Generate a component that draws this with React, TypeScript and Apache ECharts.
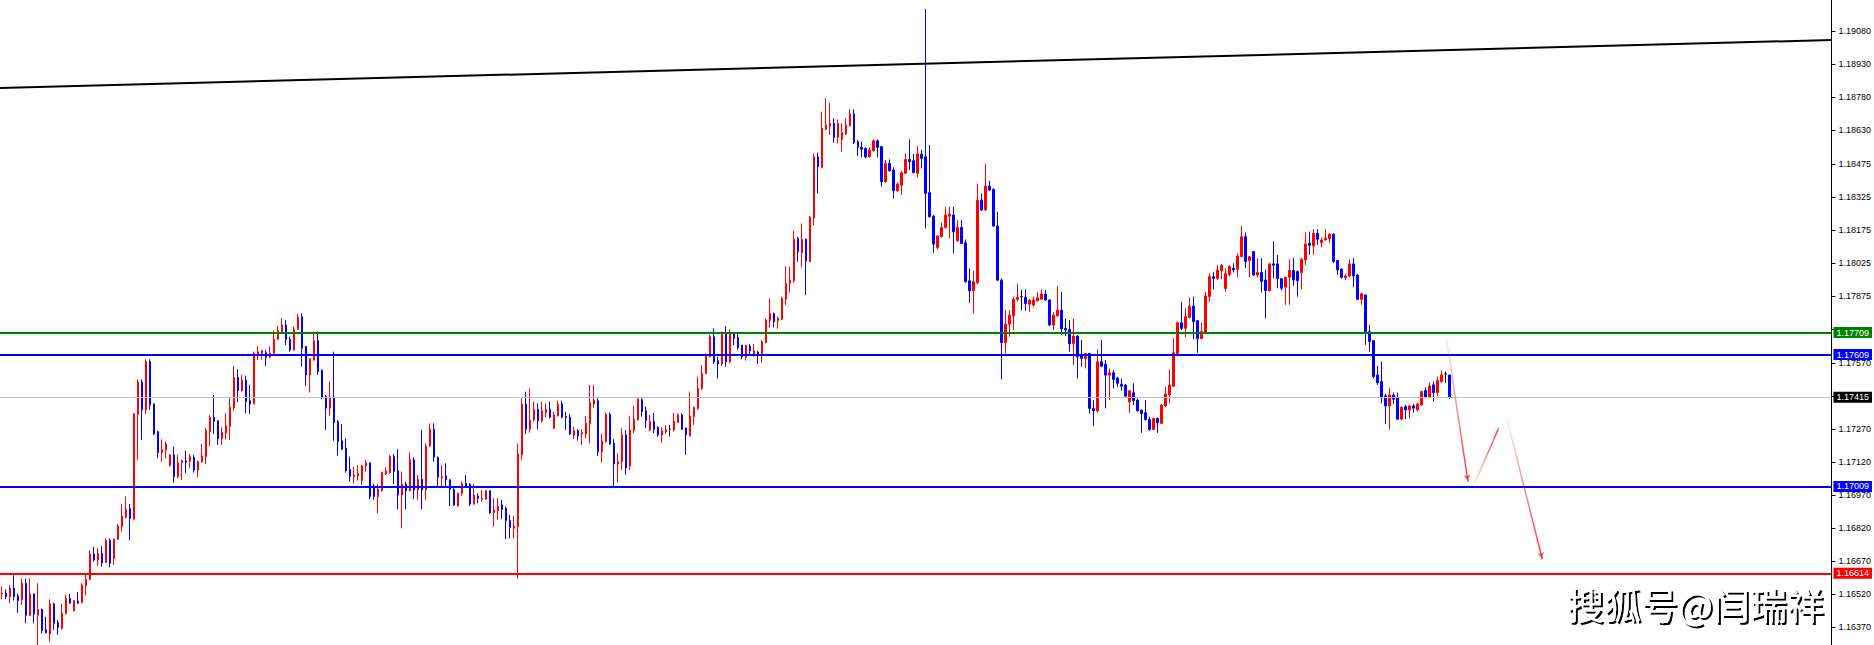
import React, { useEffect, useRef } from 'react';
import * as echarts from 'echarts';

const OPEN = [
1.16520,1.16523,1.16508,1.16546,1.16511,1.16493,1.16569,1.16423,1.16520,1.16423,
1.16450,1.16357,1.16338,1.16475,1.16390,1.16364,1.16432,1.16500,1.16444,1.16488,
1.16481,1.16557,1.16587,1.16702,1.16675,1.16705,1.16663,1.16763,1.16681,1.16769,
1.16826,1.16869,1.16908,1.16860,1.17336,1.17484,1.17357,1.17577,1.17384,1.17258,
1.17163,1.17175,1.17104,1.17152,1.17054,1.17117,1.17125,1.17122,1.17142,1.17084,
1.17122,1.17145,1.17258,1.17323,1.17308,1.17226,1.17251,1.17281,1.17366,1.17505,
1.17445,1.17493,1.17399,1.17384,1.17605,1.17615,1.17618,1.17596,1.17615,1.17678,
1.17709,1.17743,1.17678,1.17630,1.17724,1.17781,1.17645,1.17516,1.17584,1.17672,
1.17536,1.17418,1.17365,1.17415,1.17304,1.17217,1.17183,1.17087,1.17054,1.17057,
1.17036,1.17102,1.17117,1.17011,1.16963,1.16990,1.17066,1.17072,1.17145,1.17081,
1.16970,1.17020,1.16990,1.17130,1.16993,1.17042,1.16993,1.17193,1.17269,1.17142,
1.17048,1.17057,1.17039,1.16996,1.16920,1.16978,1.17023,1.17020,1.16929,1.16966,
1.16951,1.16951,1.16990,1.16890,1.16899,1.16925,1.16910,1.16854,1.16819,1.16826,
1.17152,1.17384,1.17269,1.17311,1.17360,1.17308,1.17345,1.17360,1.17274,1.17330,
1.17384,1.17327,1.17324,1.17243,1.17263,1.17248,1.17248,1.17293,1.17384,1.17399,
1.17167,1.17213,1.17336,1.17205,1.17111,1.17121,1.17243,1.17102,1.17262,1.17312,
1.17403,1.17353,1.17266,1.17304,1.17278,1.17243,1.17257,1.17269,1.17266,1.17300,
1.17334,1.17274,1.17239,1.17327,1.17364,1.17455,1.17523,1.17599,1.17690,1.17581,
1.17566,1.17708,1.17576,1.17702,1.17687,1.17652,1.17596,1.17647,1.17614,1.17620,
1.17614,1.17663,1.17763,1.17796,1.17763,1.17769,1.17860,1.17932,1.17945,1.18137,
1.18072,1.18133,1.18032,1.18230,1.18508,1.18460,1.18633,1.18648,1.18660,1.18596,
1.18587,1.18612,1.18648,1.18703,1.18577,1.18551,1.18546,1.18508,1.18536,1.18581,
1.18554,1.18395,1.18478,1.18448,1.18354,1.18379,1.18433,1.18496,1.18490,1.18433,
1.18520,1.18508,1.18345,1.18238,1.18096,1.18144,1.18187,1.18238,1.18243,1.18126,
1.18187,1.18117,1.17944,1.17899,1.17935,1.18311,1.18266,1.18375,1.18360,1.18193,
1.17947,1.17663,1.17747,1.17784,1.17860,1.17872,1.17869,1.17838,1.17834,1.17853,
1.17860,1.17884,1.17857,1.17743,1.17785,1.17811,1.17728,1.17723,1.17659,1.17693,
1.17602,1.17590,1.17614,1.17364,1.17353,1.17576,1.17565,1.17515,1.17526,1.17502,
1.17474,1.17470,1.17394,1.17435,1.17402,1.17356,1.17344,1.17314,1.17268,1.17318,
1.17296,1.17375,1.17425,1.17465,1.17614,1.17753,1.17728,1.17778,1.17829,1.17763,
1.17682,1.17708,1.17872,1.17963,1.17955,1.17991,1.17909,1.17971,1.18001,1.17997,
1.18054,1.18145,1.18036,1.18077,1.17971,1.17982,1.17948,1.17900,1.18021,1.18021,
1.17954,1.17915,1.17960,1.17991,1.17986,1.17982,1.18039,1.18115,1.18103,1.18160,
1.18118,1.18130,1.18136,1.18156,1.18036,1.17997,1.17959,1.17966,1.18021,1.17970,
1.17860,1.17880,1.17713,1.17672,1.17516,1.17486,1.17421,1.17375,1.17425,1.17410,
1.17315,1.17372,1.17357,1.17375,1.17357,1.17380,1.17445,1.17415,1.17471,1.17436,
1.17486,1.17521,1.17516
];

const CLOSE = [
1.16523,1.16508,1.16546,1.16508,1.16490,1.16569,1.16423,1.16520,1.16429,1.16450,
1.16353,1.16344,1.16475,1.16387,1.16369,1.16432,1.16500,1.16478,1.16490,1.16478,
1.16561,1.16587,1.16702,1.16675,1.16705,1.16663,1.16763,1.16660,1.16769,1.16829,
1.16875,1.16905,1.16863,1.17339,1.17484,1.17357,1.17577,1.17380,1.17248,1.17163,
1.17175,1.17202,1.17152,1.17054,1.17117,1.17126,1.17120,1.17145,1.17084,1.17123,
1.17148,1.17263,1.17323,1.17304,1.17226,1.17254,1.17284,1.17369,1.17505,1.17445,
1.17493,1.17395,1.17384,1.17615,1.17621,1.17627,1.17596,1.17615,1.17678,1.17718,
1.17743,1.17678,1.17630,1.17724,1.17778,1.17637,1.17516,1.17589,1.17672,1.17531,
1.17415,1.17365,1.17415,1.17299,1.17213,1.17178,1.17081,1.17054,1.17061,1.17066,
1.17102,1.17117,1.16963,1.16963,1.16996,1.17072,1.17081,1.17145,1.17077,1.16970,
1.17020,1.16990,1.17130,1.16993,1.17042,1.16993,1.17193,1.17269,1.17142,1.17051,
1.17054,1.17039,1.16996,1.16925,1.16978,1.17023,1.17011,1.16929,1.16970,1.16955,
1.16955,1.16990,1.16890,1.16902,1.16920,1.16905,1.16854,1.16823,1.16829,1.17157,
1.17384,1.17269,1.17311,1.17360,1.17308,1.17354,1.17360,1.17324,1.17334,1.17384,
1.17324,1.17322,1.17248,1.17263,1.17240,1.17254,1.17296,1.17390,1.17402,1.17167,
1.17216,1.17336,1.17202,1.17111,1.17122,1.17243,1.17093,1.17266,1.17315,1.17406,
1.17350,1.17309,1.17304,1.17269,1.17243,1.17262,1.17266,1.17269,1.17304,1.17334,
1.17269,1.17243,1.17330,1.17368,1.17455,1.17523,1.17607,1.17690,1.17576,1.17566,
1.17708,1.17576,1.17705,1.17682,1.17641,1.17599,1.17652,1.17626,1.17626,1.17611,
1.17667,1.17766,1.17796,1.17758,1.17773,1.17864,1.17932,1.17948,1.18133,1.18076,
1.18133,1.18035,1.18233,1.18508,1.18463,1.18637,1.18652,1.18660,1.18596,1.18660,
1.18618,1.18652,1.18703,1.18572,1.18551,1.18542,1.18508,1.18539,1.18581,1.18551,
1.18395,1.18478,1.18445,1.18354,1.18384,1.18435,1.18496,1.18486,1.18436,1.18521,
1.18501,1.18342,1.18235,1.18111,1.18148,1.18187,1.18243,1.18248,1.18167,1.18187,
1.18114,1.17940,1.17899,1.17940,1.18311,1.18266,1.18375,1.18357,1.18193,1.17947,
1.17663,1.17747,1.17788,1.17860,1.17869,1.17872,1.17841,1.17857,1.17857,1.17867,
1.17884,1.17857,1.17743,1.17788,1.17811,1.17725,1.17720,1.17659,1.17693,1.17599,
1.17591,1.17614,1.17364,1.17353,1.17576,1.17556,1.17515,1.17526,1.17496,1.17478,
1.17465,1.17420,1.17444,1.17399,1.17353,1.17341,1.17314,1.17268,1.17318,1.17299,
1.17379,1.17429,1.17470,1.17617,1.17753,1.17728,1.17781,1.17829,1.17758,1.17682,
1.17713,1.17875,1.17963,1.17955,1.17993,1.18015,1.17976,1.18009,1.17994,1.18057,
1.18145,1.18032,1.18054,1.17971,1.17982,1.17941,1.17900,1.18021,1.18015,1.17954,
1.17910,1.17960,1.17991,1.17948,1.17945,1.18042,1.18112,1.18106,1.18160,1.18133,
1.18130,1.18138,1.18156,1.18032,1.17994,1.17959,1.17966,1.18021,1.17966,1.17860,
1.17885,1.17713,1.17668,1.17509,1.17481,1.17415,1.17375,1.17425,1.17406,1.17315,
1.17369,1.17357,1.17375,1.17365,1.17384,1.17440,1.17415,1.17466,1.17436,1.17491,
1.17516,1.17521,1.17415
];

const LOW = [
1.16496,1.16496,1.16478,1.16490,1.16435,1.16470,1.16387,1.16420,1.16387,1.16288,
1.16341,1.16341,1.16303,1.16357,1.16334,1.16357,1.16425,1.16475,1.16440,1.16475,
1.16478,1.16514,1.16584,1.16667,1.16648,1.16644,1.16660,1.16641,1.16652,1.16766,
1.16804,1.16864,1.16766,1.16854,1.17130,1.17220,1.17339,1.17357,1.17243,1.17137,
1.17122,1.17137,1.17099,1.17026,1.17046,1.17038,1.17069,1.17092,1.17072,1.17051,
1.17117,1.17110,1.17193,1.17248,1.17198,1.17198,1.17223,1.17220,1.17354,1.17393,
1.17440,1.17342,1.17339,1.17384,1.17584,1.17587,1.17557,1.17592,1.17612,1.17675,
1.17705,1.17652,1.17622,1.17627,1.17721,1.17554,1.17466,1.17436,1.17581,1.17516,
1.17405,1.17266,1.17330,1.17217,1.17148,1.17175,1.17072,1.17031,1.17023,1.17036,
1.17016,1.17077,1.16951,1.16948,1.16887,1.16986,1.17061,1.17066,1.17020,1.16905,
1.16819,1.16905,1.16986,1.16951,1.16948,1.16905,1.16948,1.17190,1.17122,1.17011,
1.17011,1.17011,1.16920,1.16920,1.16917,1.16966,1.17005,1.16920,1.16925,1.16932,
1.16940,1.16948,1.16884,1.16826,1.16857,1.16860,1.16769,1.16773,1.16773,1.16591,
1.17130,1.17248,1.17254,1.17304,1.17269,1.17299,1.17324,1.17319,1.17269,1.17327,
1.17319,1.17266,1.17243,1.17224,1.17217,1.17198,1.17228,1.17205,1.17365,1.17148,
1.17117,1.17208,1.17198,1.17001,1.17026,1.17084,1.17062,1.17084,1.17251,1.17309,
1.17327,1.17274,1.17259,1.17251,1.17236,1.17209,1.17248,1.17236,1.17259,1.17297,
1.17266,1.17153,1.17236,1.17289,1.17357,1.17448,1.17520,1.17596,1.17566,1.17500,
1.17557,1.17554,1.17569,1.17652,1.17632,1.17587,1.17581,1.17611,1.17599,1.17566,
1.17572,1.17660,1.17732,1.17732,1.17726,1.17766,1.17834,1.17890,1.17935,1.18031,
1.18005,1.17879,1.18029,1.18198,1.18342,1.18455,1.18630,1.18607,1.18572,1.18569,
1.18531,1.18607,1.18645,1.18566,1.18512,1.18505,1.18501,1.18505,1.18531,1.18505,
1.18372,1.18390,1.18440,1.18319,1.18349,1.18334,1.18430,1.18448,1.18433,1.18415,
1.18455,1.18182,1.18232,1.18072,1.18087,1.18141,1.18182,1.18137,1.18069,1.18122,
1.18111,1.17935,1.17844,1.17796,1.17929,1.18263,1.18263,1.18354,1.18190,1.17944,
1.17496,1.17614,1.17690,1.17720,1.17849,1.17811,1.17808,1.17803,1.17826,1.17849,
1.17857,1.17853,1.17738,1.17720,1.17781,1.17697,1.17693,1.17622,1.17561,1.17500,
1.17553,1.17546,1.17341,1.17284,1.17344,1.17553,1.17364,1.17402,1.17455,1.17462,
1.17444,1.17417,1.17344,1.17379,1.17349,1.17253,1.17308,1.17262,1.17265,1.17253,
1.17293,1.17371,1.17387,1.17462,1.17606,1.17720,1.17687,1.17773,1.17678,1.17617,
1.17678,1.17702,1.17849,1.17905,1.17947,1.17951,1.17895,1.17966,1.17982,1.17960,
1.18051,1.18001,1.17960,1.17966,1.17960,1.17891,1.17774,1.17895,1.17956,1.17910,
1.17900,1.17835,1.17835,1.17921,1.17872,1.17906,1.18016,1.18062,1.18062,1.18107,
1.18097,1.18127,1.18115,1.18024,1.17971,1.17954,1.17948,1.17960,1.17915,1.17857,
1.17835,1.17653,1.17622,1.17501,1.17471,1.17387,1.17293,1.17269,1.17384,1.17312,
1.17312,1.17315,1.17319,1.17345,1.17350,1.17375,1.17410,1.17410,1.17395,1.17421,
1.17481,1.17481,1.17406
];

const HIGH = [
1.16554,1.16541,1.16561,1.16605,1.16523,1.16590,1.16590,1.16590,1.16523,1.16569,
1.16454,1.16417,1.16496,1.16481,1.16402,1.16475,1.16516,1.16520,1.16493,1.16529,
1.16569,1.16614,1.16717,1.16735,1.16728,1.16738,1.16772,1.16772,1.16772,1.16838,
1.16929,1.16963,1.16929,1.17342,1.17496,1.17496,1.17587,1.17587,1.17387,1.17263,
1.17223,1.17213,1.17157,1.17190,1.17152,1.17130,1.17172,1.17157,1.17152,1.17126,
1.17202,1.17274,1.17334,1.17425,1.17311,1.17278,1.17342,1.17410,1.17557,1.17542,
1.17515,1.17511,1.17471,1.17622,1.17648,1.17630,1.17630,1.17645,1.17718,1.17739,
1.17774,1.17766,1.17690,1.17736,1.17793,1.17796,1.17648,1.17592,1.17713,1.17713,
1.17542,1.17425,1.17486,1.17622,1.17311,1.17293,1.17228,1.17145,1.17099,1.17107,
1.17107,1.17130,1.17117,1.17020,1.17020,1.17077,1.17096,1.17152,1.17157,1.17178,
1.17077,1.17031,1.17163,1.17142,1.17061,1.17266,1.17205,1.17296,1.17296,1.17145,
1.17107,1.17114,1.17042,1.17001,1.16981,1.17031,1.17061,1.17023,1.17020,1.16978,
1.16993,1.16993,1.16990,1.16955,1.16955,1.16948,1.16917,1.16879,1.16875,1.17205,
1.17410,1.17440,1.17455,1.17395,1.17387,1.17395,1.17387,1.17395,1.17349,1.17399,
1.17399,1.17349,1.17339,1.17281,1.17269,1.17269,1.17330,1.17471,1.17471,1.17410,
1.17248,1.17345,1.17345,1.17224,1.17160,1.17274,1.17266,1.17327,1.17375,1.17410,
1.17410,1.17372,1.17334,1.17342,1.17284,1.17278,1.17289,1.17289,1.17342,1.17342,
1.17342,1.17278,1.17441,1.17372,1.17508,1.17561,1.17614,1.17698,1.17728,1.17599,
1.17713,1.17738,1.17723,1.17708,1.17708,1.17652,1.17652,1.17657,1.17657,1.17626,
1.17675,1.17773,1.17864,1.17799,1.17781,1.17872,1.18011,1.18008,1.18172,1.18145,
1.18205,1.18137,1.18239,1.18524,1.18527,1.18713,1.18774,1.18754,1.18683,1.18678,
1.18660,1.18683,1.18724,1.18724,1.18584,1.18577,1.18551,1.18551,1.18587,1.18587,
1.18557,1.18493,1.18496,1.18460,1.18390,1.18445,1.18524,1.18587,1.18521,1.18557,
1.18539,1.19180,1.18561,1.18243,1.18152,1.18208,1.18281,1.18281,1.18281,1.18220,
1.18220,1.18132,1.18001,1.17990,1.18387,1.18342,1.18475,1.18399,1.18364,1.18258,
1.17955,1.17811,1.17811,1.17872,1.17932,1.17902,1.17905,1.17860,1.17872,1.17894,
1.17905,1.17902,1.17860,1.17803,1.17920,1.17893,1.17773,1.17766,1.17773,1.17697,
1.17675,1.17614,1.17614,1.17402,1.17632,1.17675,1.17584,1.17546,1.17538,1.17508,
1.17500,1.17474,1.17447,1.17478,1.17409,1.17359,1.17402,1.17326,1.17323,1.17323,
1.17384,1.17462,1.17541,1.17682,1.17758,1.17849,1.17819,1.17869,1.17872,1.17766,
1.17753,1.17894,1.17978,1.17985,1.18016,1.18021,1.18001,1.18016,1.18024,1.18070,
1.18194,1.18164,1.18057,1.18077,1.18047,1.18047,1.17994,1.18024,1.18123,1.18062,
1.17956,1.17963,1.18042,1.18047,1.17991,1.18047,1.18164,1.18168,1.18179,1.18179,
1.18142,1.18179,1.18160,1.18160,1.18039,1.18001,1.17976,1.18042,1.18047,1.17976,
1.17891,1.17880,1.17744,1.17675,1.17557,1.17577,1.17430,1.17456,1.17436,1.17436,
1.17372,1.17380,1.17380,1.17384,1.17390,1.17445,1.17460,1.17481,1.17486,1.17509,
1.17536,1.17531,1.17516
];

// chart has room for 458 bar slots; only the first 363 are filled
const SLOT_COUNT = 458;
const Y_MIN = 1.162881;
const Y_MAX = 1.19221;
const Y_TICKS = [
  1.1637, 1.1652, 1.1667, 1.1682, 1.1697, 1.1712, 1.1727, 1.1742, 1.1757,
  1.17725, 1.17875, 1.18025, 1.18175, 1.18325, 1.18475, 1.1863, 1.1878, 1.1893, 1.1908,
];
// labels hidden behind the price boxes in the reference
const Y_TICK_LABELS = [
  1.1637, 1.1652, 1.1667, 1.1682, 1.1697, 1.1712, 1.1727, 1.1757,
  1.17875, 1.18025, 1.18175, 1.18325, 1.18475, 1.1863, 1.1878, 1.1893, 1.1908,
];
const LEVEL_VALUES = [1.17709, 1.17609, 1.17009, 1.16614];
const LEVEL_COLORS = ['#008000', '#0000ff', '#0000ff', '#ff0000'];
const CURRENT_PRICE = 1.17415;
const TREND_START = [-0.5, 1.18821];
const TREND_END = [457.5, 1.19039];
const ARROW_STARTS = [[361.2, 1.17683], [368.25, 1.17023], [376.3, 1.17319]];
const ARROW_ENDS = [[366.6, 1.17031], [374.25, 1.17273], [385.2, 1.16678]];
const ARROW_HEADS = [true, false, true];
const ARROW_FADE_TOP = [true, false, true];

const LABEL_FONT = '"Liberation Sans", Arial, sans-serif';

export default function App() {
  const ref = useRef<HTMLDivElement>(null);

  useEffect(() => {
    const chart = echarts.init(ref.current as HTMLDivElement, null, { renderer: 'svg' });
    const categories = Array.from({ length: SLOT_COUNT }, (_, i) => String(i));
    const candles = OPEN.map((o, i) => [o, CLOSE[i], LOW[i], HIGH[i]]);

    const levelData: any[] = [
      {
        yAxis: CURRENT_PRICE,
        lineStyle: { color: '#c0c0c0', width: 1, type: 'solid' },
        label: { backgroundColor: '#000000' },
      },
    ];
    LEVEL_VALUES.forEach((v, i) => {
      levelData.push({
        yAxis: v,
        lineStyle: { color: LEVEL_COLORS[i], width: 2, type: 'solid' },
        label: { backgroundColor: LEVEL_COLORS[i] },
      });
    });

    const arrowData = ARROW_STARTS.map((s, i) => {
      const fadeTop = ARROW_FADE_TOP[i];
      const grad = new echarts.graphic.LinearGradient(0, 0, 0, 1, [
        { offset: 0, color: fadeTop ? 'rgba(255,0,0,0.08)' : 'rgba(240,40,40,0.85)' },
        { offset: 1, color: fadeTop ? 'rgba(240,40,40,0.9)' : 'rgba(255,0,0,0.1)' },
      ]);
      return [
        { coord: s, symbol: 'none', lineStyle: { color: grad, width: 1.5, type: 'solid' } },
        { coord: ARROW_ENDS[i], symbol: ARROW_HEADS[i] ? 'arrow' : 'none', symbolSize: [5, 7] },
      ];
    });

    const option: any = {
      animation: false,
      backgroundColor: '#ffffff',
      grid: { left: 0, right: 42, top: 0, bottom: 0, containLabel: false },
      xAxis: [
        { type: 'category', data: categories, boundaryGap: true, show: false },
        { type: 'value', min: -0.5, max: SLOT_COUNT - 0.5, show: false },
      ],
      yAxis: {
        type: 'value',
        position: 'right',
        min: Y_MIN,
        max: Y_MAX,
        scale: true,
        splitLine: { show: false },
        axisLine: { show: true, onZero: false, lineStyle: { color: '#000', width: 1 } },
        axisTick: { show: true, length: 4, customValues: Y_TICKS, lineStyle: { color: '#000' } },
        axisLabel: {
          show: true,
          customValues: Y_TICK_LABELS,
          formatter: (v: number) => v.toFixed(5),
          color: '#000',
          fontSize: 9,
          fontFamily: LABEL_FONT,
          margin: 7,
        },
      },
      series: [
        {
          type: 'candlestick',
          xAxisIndex: 0,
          yAxisIndex: 0,
          data: candles,
          barWidth: 2,
          itemStyle: {
            color: '#ff0000',
            color0: '#0000ff',
            borderColor: '#ff0000',
            borderColor0: '#0000ff',
            borderColorDoji: '#000000',
            borderWidth: 1,
          },
          markLine: {
            silent: true,
            symbol: 'none',
            precision: 5,
            animation: false,
            label: {
              show: true,
              position: 'end',
              distance: 2,
              formatter: (p: any) => Number(p.value).toFixed(5),
              color: '#ffffff',
              fontSize: 9,
              fontFamily: LABEL_FONT,
              padding: [1, 3, 1, 3],
            },
            data: levelData,
          },
        },
        {
          type: 'line',
          xAxisIndex: 1,
          yAxisIndex: 0,
          data: [],
          showSymbol: false,
          markLine: {
            silent: true,
            symbol: 'none',
            precision: 6,
            animation: false,
            label: { show: false },
            data: [
              [
                { coord: TREND_START, lineStyle: { color: '#000000', width: 2, type: 'solid' } },
                { coord: TREND_END },
              ],
              ...arrowData,
            ],
          },
        },
      ],
      graphic: [
        {
          type: 'text',
          left: 1567,
          top: 585,
          z: 100,
          style: {
            text: '搜狐号@闫瑞祥',
            fill: '#ffffff',
            fontSize: 37,
            fontWeight: 'normal',
            fontFamily: '"Noto Sans CJK SC", sans-serif',
            textShadowColor: 'rgba(0,0,0,1)',
            textShadowBlur: 1,
            textShadowOffsetX: 2,
            textShadowOffsetY: 2,
          },
        },
      ],
    };

    chart.setOption(option);
    return () => chart.dispose();
  }, []);

  return (
    <div
      ref={ref}
      style={{ position: 'fixed', left: 0, top: 0, width: 1874, height: 645, background: '#ffffff' }}
    />
  );
}
